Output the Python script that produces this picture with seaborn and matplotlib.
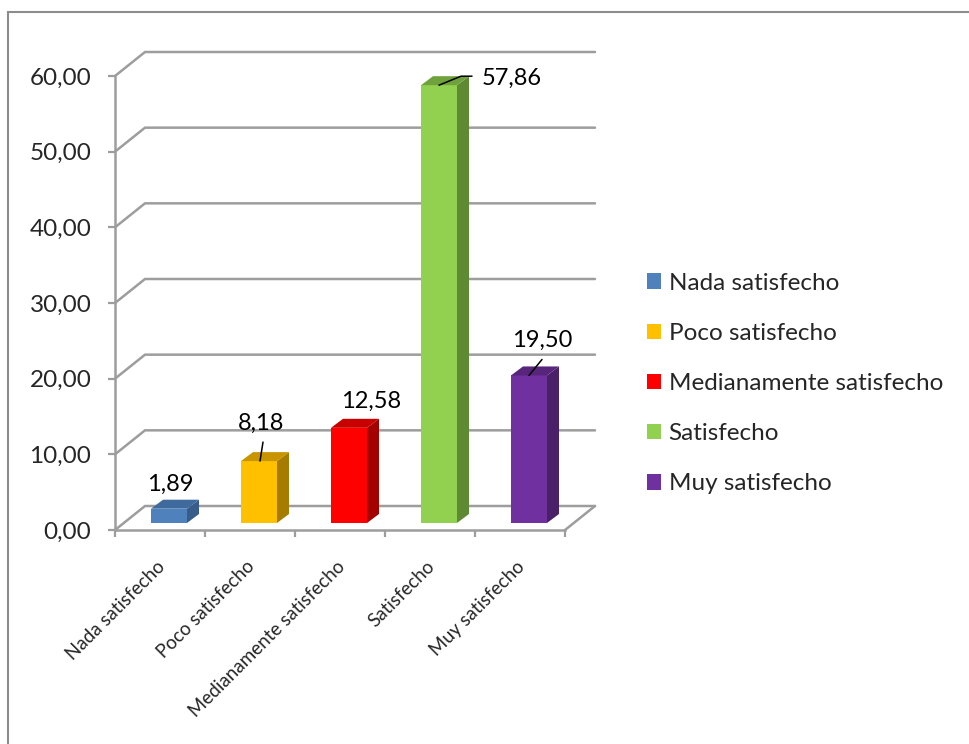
import pandas as pd
import seaborn as sns
import matplotlib.pyplot as plt
from matplotlib.patches import Polygon, Patch, Rectangle
from matplotlib.ticker import FuncFormatter
from matplotlib.transforms import ScaledTranslation

# Data
categorias = ['Nada satisfecho', 'Poco satisfecho', 'Medianamente satisfecho',
              'Satisfecho', 'Muy satisfecho']
valores = [1.89, 8.18, 12.58, 57.86, 19.50]
colores = ['#4F81BD', '#FFC000', '#FF0000', '#92D050', '#7030A0']
lados = ['#385D8A', '#A67C00', '#A50000', '#5F8A34', '#4A2068']
techos = ['#3E6A9E', '#C89400', '#C80000', '#6FA23C', '#57257C']
y_ticks = [0, 10, 20, 30, 40, 50, 60]

df = pd.DataFrame({'categoria': categorias, 'valor': valores})

sns.set_style('white')
plt.rcParams['font.family'] = ['Lato', 'DejaVu Sans']

W, H = 969, 744
fig = plt.figure(figsize=(W / 100, H / 100), dpi=100)
ax = fig.add_axes([115 / W, (H - 530) / H, 450 / W, 454 / H])

sns.barplot(data=df, x='categoria', y='valor', hue='categoria', palette=colores,
            width=0.4, saturation=1, legend=False, linewidth=0, ax=ax, zorder=3)
ax.set_xlim(-0.5, 4.5)
ax.set_ylim(0, 60)

# pixel -> data helpers
px_x = 5 / 450
px_y = 60 / 454
grey = '#9d9d9d'

# 3D box: walls and floor
DX, DY = 30 * px_x, 24 * px_y
for v in y_ticks:
    ax.plot([-0.5, -0.5 + DX, 4.5 + DX], [v, v + DY, v + DY], color=grey,
            lw=1.8, clip_on=False, zorder=1, solid_joinstyle='miter')
ax.plot([4.5, 4.5 + DX], [0, DY], color=grey, lw=1.8, clip_on=False, zorder=1)

# bars sit a bit inside the floor; add side and top faces
sx, sy = 9 * px_x, 7 * px_y
bdx, bdy = 12 * px_x, 9 * px_y
tops = []
for i, p in enumerate(ax.patches):
    p.set_x(p.get_x() + sx)
    p.set_y(p.get_y() + sy)
    p.set_clip_on(False)
    x0, x1 = p.get_x(), p.get_x() + p.get_width()
    y0, y1 = p.get_y(), p.get_y() + p.get_height()
    ax.add_patch(Polygon([(x1, y0), (x1 + bdx, y0 + bdy), (x1 + bdx, y1 + bdy), (x1, y1)],
                         closed=True, fc=lados[i], ec='none', zorder=3, clip_on=False))
    ax.add_patch(Polygon([(x0, y1), (x1, y1), (x1 + bdx, y1 + bdy), (x0 + bdx, y1 + bdy)],
                         closed=True, fc=techos[i], ec='none', zorder=3, clip_on=False))
    tops.append(((x0 + x1) / 2, y1))

# data labels (offsets in pixels from top of bar front face) and leader lines
lab_off = [(1, 24), (2, 38), (22, 26), (73, 7), (13, 35)]
leaders = {1: [(4, 19), (1, 0)],
           3: [(0, 0), (22, 9), (33, 9)],
           4: [(0, 0), (13, 16)]}
for i, (cx, ty) in enumerate(tops):
    dx, dy = lab_off[i]
    ax.text(cx + dx * px_x, ty + dy * px_y, f'{valores[i]:.2f}'.replace('.', ','),
            ha='center', va='center', fontsize=17, color='black', zorder=5, clip_on=False)
    if i in leaders:
        pts = leaders[i]
        ax.plot([cx + a * px_x for a, b in pts], [ty + b * px_y for a, b in pts],
                color='black', lw=1.1, clip_on=False, zorder=5)

# axes styling
for s in ['top', 'right']:
    ax.spines[s].set_visible(False)
for s in ['left', 'bottom']:
    ax.spines[s].set_color(grey)
    ax.spines[s].set_linewidth(1.8)
    ax.spines[s].set_zorder(1)

ax.set_yticks(y_ticks)
ax.yaxis.set_major_formatter(FuncFormatter(lambda v, _: f'{v:.2f}'.replace('.', ',')))
ax.tick_params(axis='y', left=True, direction='out', length=5, width=1.6,
               color=grey, labelsize=17.5, pad=12)
ax.set_xticks(range(len(categorias)))
ax.set_xticks([i - 0.5 for i in range(len(categorias) + 1)], minor=True)
ax.set_xticklabels(categorias, rotation=45, ha='right', rotation_mode='anchor', fontsize=13.5)
ax.tick_params(axis='x', which='major', length=0, pad=20)
ax.tick_params(axis='x', which='minor', bottom=True, direction='out', length=5,
               width=1.6, color=grey)
shift = ScaledTranslation(-4 / 100, 0, fig.dpi_scale_trans)
for lab in ax.get_xticklabels():
    lab.set_transform(lab.get_transform() + shift)
ax.set_xlabel('')
ax.set_ylabel('')

# legend
handles = [Patch(facecolor=c, edgecolor='none', label=l) for c, l in zip(colores, categorias)]
fig.legend(handles=handles, loc='upper left', bbox_to_anchor=(637 / W, (H - 263) / H),
           frameon=False, fontsize=17.5, handlelength=0.6, handleheight=0.6,
           handletextpad=0.3, labelspacing=1.2, borderaxespad=0)

# chart border
fig.add_artist(Rectangle((8 / W, -0.1), 1.2, (H - 12) / H + 0.1, transform=fig.transFigure,
                         fill=False, edgecolor='#8c8c8c', lw=1.5))

fig.savefig('out.png', dpi=100)
